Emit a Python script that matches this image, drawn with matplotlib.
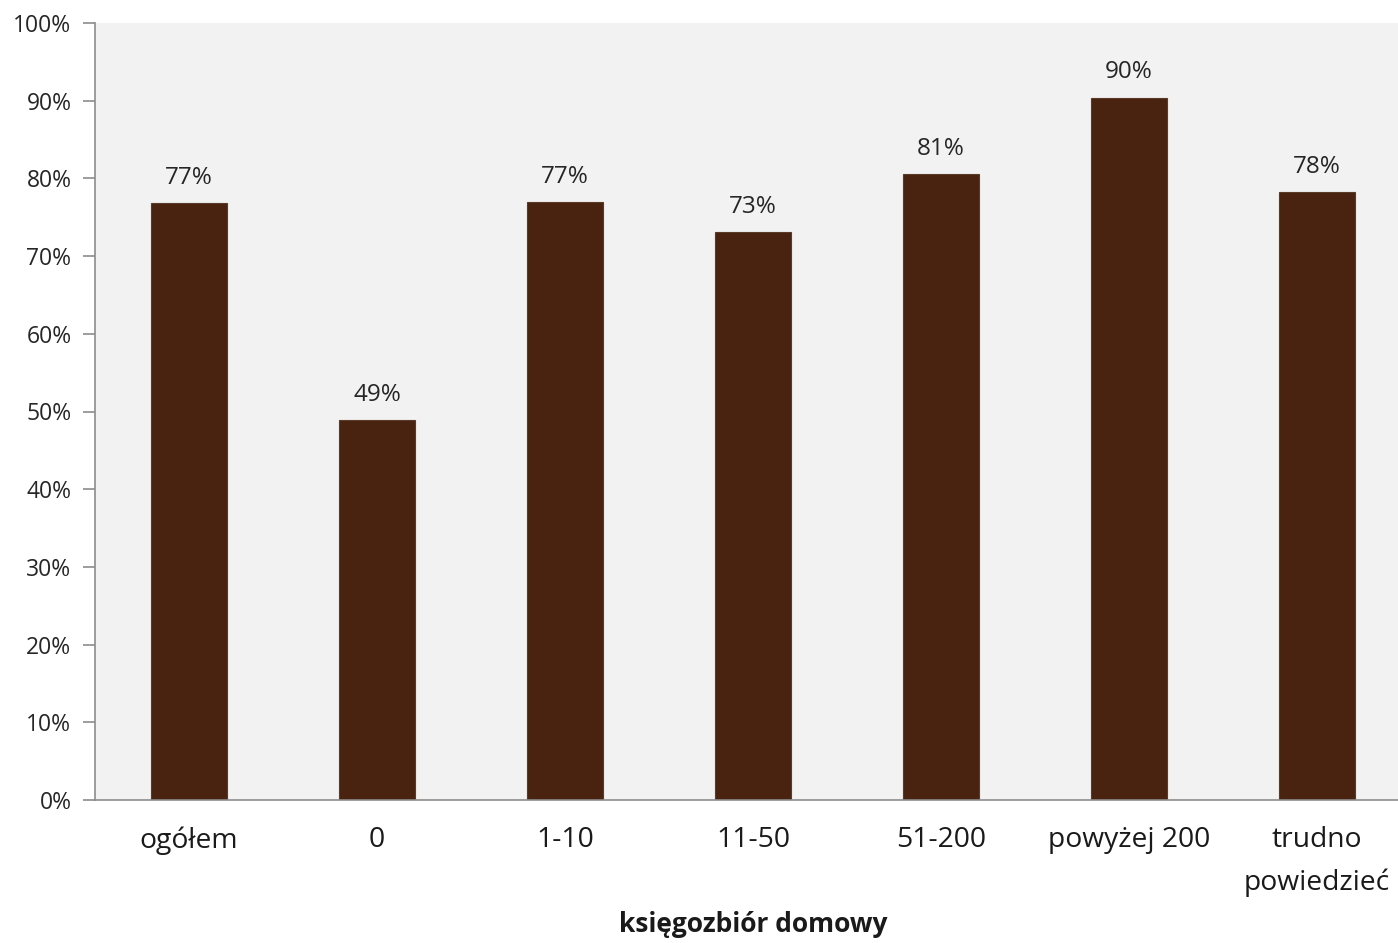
import numpy as np
import matplotlib.pyplot as plt
from matplotlib.ticker import FuncFormatter

categories = ['ogółem', '0', '1-10', '11-50', '51-200', 'powyżej 200', 'trudno\npowiedzieć']
values = [76.8, 48.9, 77.0, 73.1, 80.6, 90.4, 78.2]
yticks = np.arange(0, 101, 10)

plt.rcParams['font.family'] = ['Open Sans', 'DejaVu Sans']

fig = plt.figure(figsize=(13.98, 9.43), dpi=100)
# plot area runs a little past the right edge of the image, like the original
ax = fig.add_axes([95/1398, 1-800/943, (1411-95)/1398, (800-23)/943])
ax.set_facecolor('#F2F2F2')

x = np.arange(len(categories))
bars = ax.bar(x, values, width=0.405, color='#4A2310', edgecolor='#5A3A28', linewidth=0.8, zorder=2)

# value labels above bars
for xi, v in zip(x, values):
    ax.text(xi, v + 1.7, '%d%%' % round(v), ha='center', va='bottom', fontsize=17.5, color='#262626')

ax.set_xlim(-0.5, len(categories) - 0.5)
ax.set_ylim(0, 100)
ax.set_yticks(yticks)
ax.yaxis.set_major_formatter(FuncFormatter(lambda v, p: '%d%%' % v))
ax.set_xticks(x)
ax.set_xticklabels(categories, fontsize=20.3, color='#1a1a1a', linespacing=1.65)
ax.tick_params(axis='y', labelsize=16.5, labelcolor='#262626', length=9, color='#8c8c8c', width=1.2, pad=8)
ax.tick_params(axis='x', length=0, pad=19)

for s in ['top', 'right']:
    ax.spines[s].set_visible(False)
for s in ['left', 'bottom']:
    ax.spines[s].set_color('#8c8c8c')
    ax.spines[s].set_linewidth(1.2)

ax.set_xlabel('księgozbiór domowy', fontsize=19, fontweight='bold', labelpad=10, color='#1a1a1a')

fig.savefig('out.png', dpi=100)
